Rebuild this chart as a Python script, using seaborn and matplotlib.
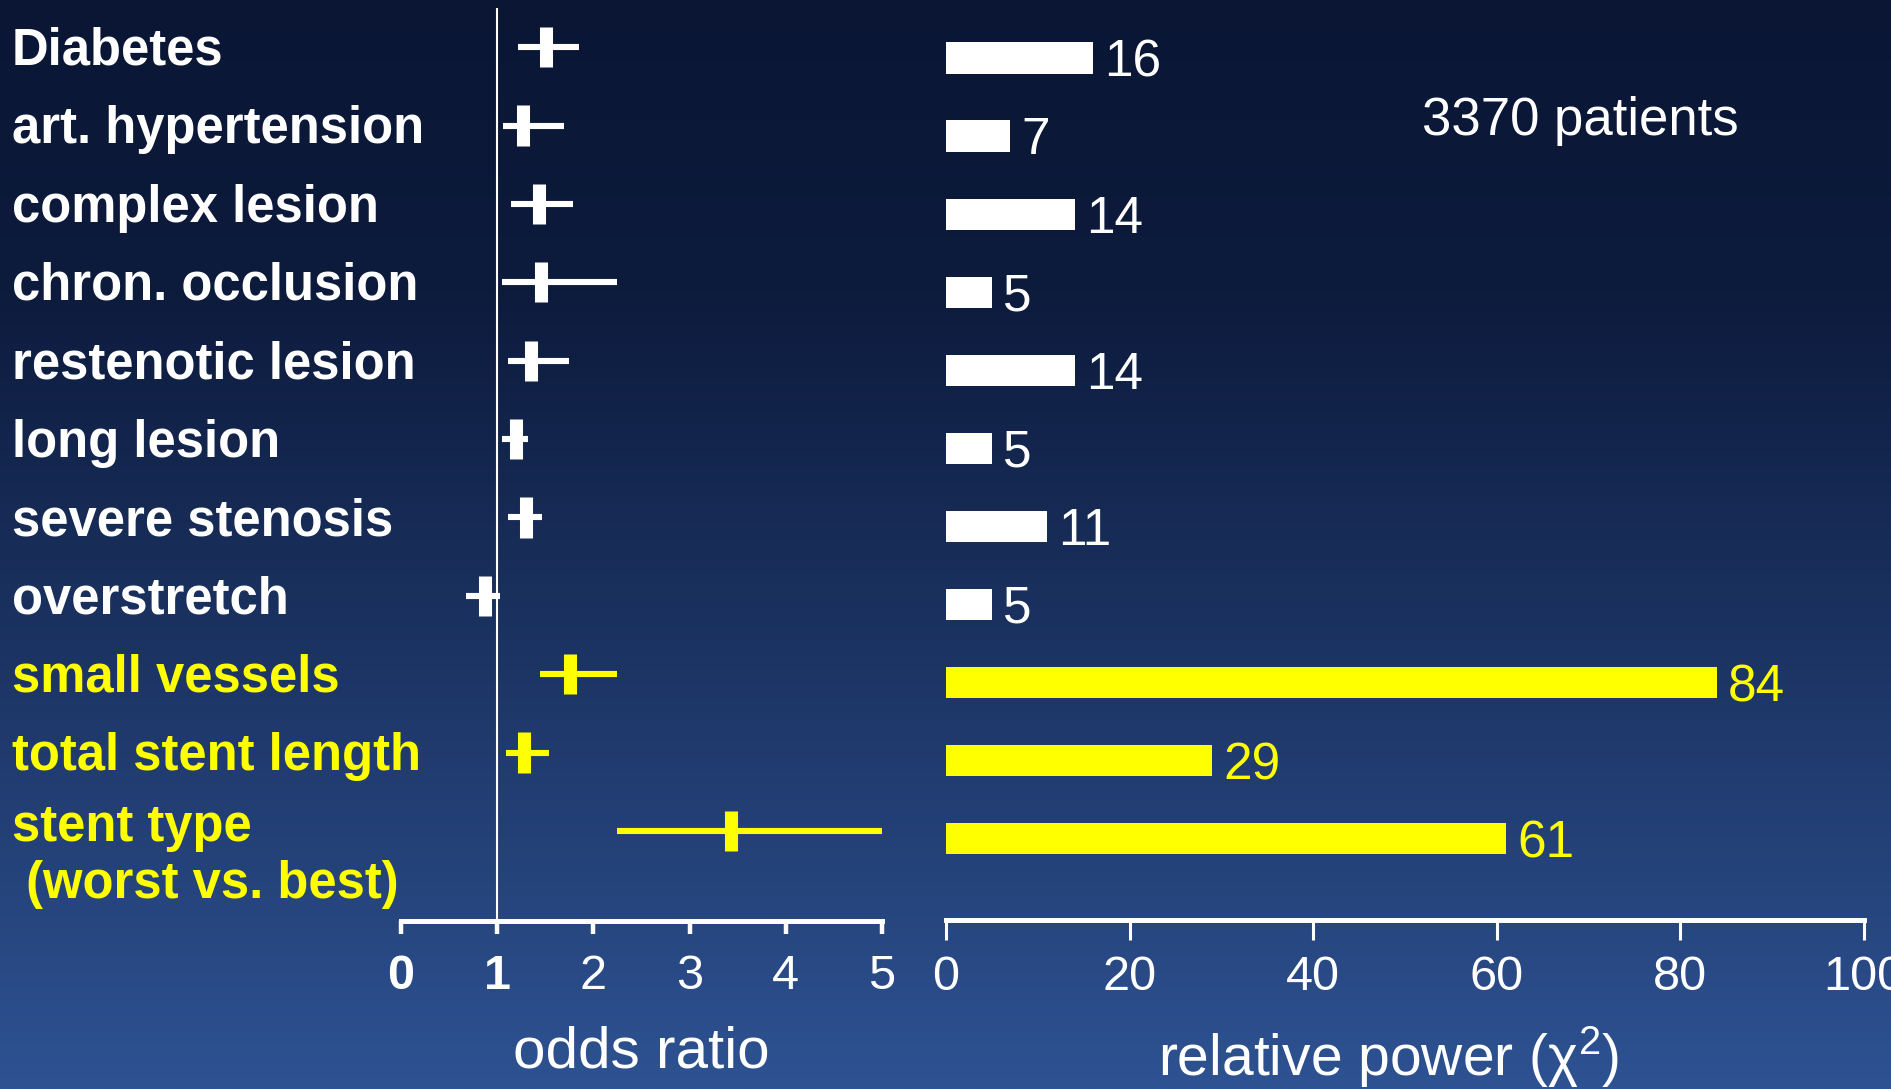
import numpy as np
import pandas as pd
import matplotlib
matplotlib.use("Agg")
import matplotlib.pyplot as plt
import matplotlib.transforms as mtransforms
import seaborn as sns

# ---- data -------------------------------------------------------------
factors = [
    "Diabetes",
    "art. hypertension",
    "complex lesion",
    "chron. occlusion",
    "restenotic lesion",
    "long lesion",
    "severe stenosis",
    "overstretch",
    "small vessels",
    "total stent length",
    "stent type\n (worst vs. best)",
]
odds_ratio = [1.51, 1.27, 1.43, 1.46, 1.35, 1.20, 1.30, 0.87, 1.76, 1.28, 3.43]
ci_low = [1.22, 1.06, 1.14, 1.05, 1.11, 1.05, 1.11, 0.68, 1.45, 1.09, 2.25]
ci_high = [1.85, 1.69, 1.79, 2.25, 1.75, 1.32, 1.47, 1.03, 2.25, 1.54, 5.02]
chi2 = [16, 7, 14, 5, 14, 5, 11, 5, 84, 29, 61]
highlight = [False] * 8 + [True] * 3
or_ticks = [0, 1, 2, 3, 4, 5]
chi_ticks = [0, 20, 40, 60, 80, 100]

WHITE = "#ffffff"
YELLOW = "#ffff00"

df = pd.DataFrame({
    "factor": factors,
    "or": odds_ratio,
    "lo": ci_low,
    "hi": ci_high,
    "chi2": chi2,
    "group": ["key" if h else "other" for h in highlight],
})
df["pos"] = np.arange(len(df))
colors = [YELLOW if h else WHITE for h in highlight]

# ---- figure -----------------------------------------------------------
sns.set_theme(style="white")
plt.rcParams["font.family"] = ["Liberation Sans", "DejaVu Sans"]
plt.rcParams["mathtext.fontset"] = "custom"
plt.rcParams["mathtext.rm"] = "Liberation Sans"

W, H = 1891, 1089
fig = plt.figure(figsize=(W / 100, H / 100), dpi=100)

def px_axes(x0, y0, x1, y1, **kw):
    return fig.add_axes([x0 / W, 1 - y1 / H, (x1 - x0) / W, (y1 - y0) / H], **kw)

# vertical gradient background
bg = fig.add_axes([0, 0, 1, 1], zorder=-10)
t = np.linspace(0, 1, 400)
stops_t = [0.0, 0.27, 1.0]
top_c = np.array([10, 22, 52]) / 255
mid_c = np.array([13, 27, 61]) / 255
bot_c = np.array([46, 82, 146]) / 255
grad = np.stack([np.interp(t, stops_t, [top_c[i], mid_c[i], bot_c[i]]) for i in range(3)], axis=-1)
bg.imshow(grad[:, None, :], aspect="auto", extent=[0, 1, 0, 1], origin="upper")
bg.set_axis_off()

# ---- forest plot (odds ratio) ----------------------------------------
ax1 = px_axes(401, 8, 882, 921)
ax1.set_facecolor("none")
ax1.set_xlim(0, 5)
ax1.set_ylim(11.15, -0.5)
ax1.axvline(1, color=WHITE, lw=1.5, zorder=1)
for _, r in df.iterrows():
    c = YELLOW if r["group"] == "key" else WHITE
    ax1.plot([r["lo"], r["hi"]], [r["pos"], r["pos"]], color=c, lw=4.4,
             solid_capstyle="butt", zorder=3)
sns.scatterplot(data=df, x="or", y="pos", hue="group",
                palette={"other": WHITE, "key": YELLOW},
                marker="|", s=29 ** 2, linewidth=9.4, legend=False,
                ax=ax1, zorder=4)
for coll in ax1.collections:
    coll.set_edgecolors([YELLOW if h else WHITE for h in highlight])
    coll.set_linewidths(9.4)

for s in ["top", "right", "left"]:
    ax1.spines[s].set_visible(False)
ax1.spines["bottom"].set_color(WHITE)
ax1.spines["bottom"].set_linewidth(3.6)
ax1.set_xticks(or_ticks)
ax1.set_xticklabels([str(v) for v in or_ticks])
ax1.tick_params(axis="x", colors=WHITE, length=9, width=3.2, direction="out",
                pad=15, labelsize=35, bottom=True)
for lbl in ax1.get_xticklabels()[:2]:
    lbl.set_fontweight("bold")
ax1.set_yticks([])
ax1.set_xlabel("odds ratio", color=WHITE, fontsize=42, labelpad=19)
ax1.set_ylabel("")

# factor names down the left edge
lbl_tr = mtransforms.blended_transform_factory(fig.transFigure, ax1.transData)
down = mtransforms.ScaledTranslation(0, -3 / 72, fig.dpi_scale_trans)
for name, pos, col in zip(factors, df["pos"], colors):
    if "\n" in name:
        off = mtransforms.ScaledTranslation(0, 20 / 72, fig.dpi_scale_trans)
        ax1.text(12 / W, pos, name, transform=lbl_tr + off, ha="left", va="top",
                 fontsize=36.5, fontweight="bold", color=col, linespacing=1.2,
                 clip_on=False)
    else:
        ax1.text(12 / W, pos, name, transform=lbl_tr + down, ha="left", va="center",
                 fontsize=36.5, fontweight="bold", color=col, clip_on=False)

# ---- relative power bars ---------------------------------------------
ax2 = px_axes(946, 19, 1864, 920)
ax2.set_facecolor("none")
sns.barplot(data=df, x="chi2", y="factor", hue="factor", palette=colors,
            orient="h", width=0.40, legend=False, ax=ax2, saturation=1,
            edgecolor="none")
ax2.set_xlim(0, 100)
ax2.set_ylim(11.04, -0.5)
for cont, col in zip(ax2.containers, colors):
    anns = ax2.bar_label(cont, labels=[f"{v:.0f}" for v in cont.datavalues],
                         padding=8, fontsize=37, color=col)
    for a in anns:
        a.xyann = (8, -3.5)
for s in ["top", "right", "left"]:
    ax2.spines[s].set_visible(False)
ax2.spines["bottom"].set_color(WHITE)
ax2.spines["bottom"].set_linewidth(3.6)
ax2.set_xticks(chi_ticks)
ax2.set_xticklabels([str(v) for v in chi_ticks])
ax2.tick_params(axis="x", colors=WHITE, length=14.5, width=2.2, direction="out",
                pad=11, labelsize=35, bottom=True)
ax2.set_yticks([])
ax2.set_ylabel("")
ax2.set_xlabel(r"relative power ($\mathregular{\chi^2}$)", color=WHITE,
               fontsize=41, labelpad=17, x=0.482)

fig.text(1580 / W, 1 - 121 / H, "3370 patients", color=WHITE, fontsize=38,
         ha="center", va="center")

fig.savefig("out.png", dpi=100, facecolor=fig.get_facecolor())
